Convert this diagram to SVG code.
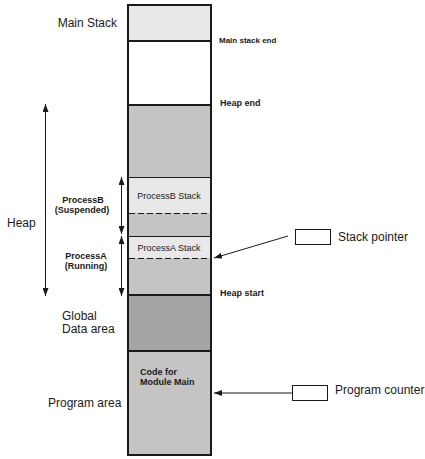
<svg xmlns="http://www.w3.org/2000/svg" width="425" height="459" viewBox="0 0 425 459">
<style>
text{font-family:"Liberation Sans",Arial,sans-serif;fill:#1a1a1a}
.lg{font-size:12px}
.sm{font-size:9px}
.b{font-weight:bold}
.seg{stroke:#1a1a1a;stroke-width:2}
.thin{stroke:#1a1a1a;stroke-width:1;fill:none}
.dash{stroke:#1a1a1a;stroke-width:1;stroke-dasharray:6 3;fill:none}
.arr{stroke:#1a1a1a;stroke-width:1;fill:none}
</style>
<defs>
<marker id="ah" viewBox="0 0 8 6" refX="8" refY="3" markerWidth="8" markerHeight="6" markerUnits="userSpaceOnUse" orient="auto-start-reverse">
<path d="M0,0 L8,3 L0,6 z" fill="#1a1a1a"/>
</marker>
</defs>
<rect width="425" height="459" fill="#fff"/>
<g id="main-stack">
<rect x="128" y="5" width="83" height="36" fill="#e8e8e8"/>
<text class="lg" x="117" y="27" text-anchor="end">Main Stack</text>
<text class="b" font-size="8" x="219" y="43">Main stack end</text>
</g>
<g id="free">
<rect x="128" y="41" width="83" height="64" fill="#fff"/>
<text class="sm b" x="220" y="106">Heap end</text>
</g>
<g id="heap">
<rect x="128" y="105" width="83" height="190" fill="#c4c4c4"/>
<text class="lg" x="7" y="227" font-size="13">Heap</text>
<text class="sm b" x="220" y="296">Heap start</text>
</g>
<g id="processB-stack">
<rect x="129" y="177" width="81" height="36" fill="#e8e8e8"/>
<line class="thin" x1="129" y1="177.5" x2="210" y2="177.5"/>
<line class="dash" x1="129" y1="213.5" x2="210" y2="213.5"/>
<text class="sm" x="169" y="199" text-anchor="middle">ProcessB Stack</text>
<text class="sm b" x="83" y="203" text-anchor="middle">ProcessB</text>
<text class="sm b" x="82" y="213" text-anchor="middle">(Suspended)</text>
</g>
<g id="processA-stack">
<rect x="129" y="236" width="81" height="22" fill="#e8e8e8"/>
<line class="thin" x1="129" y1="236.5" x2="210" y2="236.5"/>
<line class="dash" x1="129" y1="258.5" x2="210" y2="258.5"/>
<text class="sm" x="169" y="251" text-anchor="middle">ProcessA Stack</text>
<text class="sm b" x="86" y="259" text-anchor="middle">ProcessA</text>
<text class="sm b" x="86" y="269" text-anchor="middle">(Running)</text>
</g>
<g id="global-data">
<rect x="128" y="295" width="83" height="56" fill="#a4a4a4"/>
<text class="lg" x="62" y="320">Global</text>
<text class="lg" x="62" y="333">Data area</text>
</g>
<g id="program-area">
<rect x="128" y="351" width="83" height="104" fill="#c4c4c4"/>
<text class="lg" x="48" y="407">Program area</text>
<text class="sm b" x="140" y="375">Code for</text>
<text class="sm b" x="140" y="385">Module Main</text>
</g>
<g id="column-outline">
<rect x="128" y="5" width="83" height="450" fill="none" class="seg"/>
<line class="seg" x1="128" y1="41" x2="211" y2="41"/>
<line class="seg" x1="128" y1="105" x2="211" y2="105"/>
<line class="seg" x1="128" y1="295" x2="211" y2="295"/>
<line class="seg" x1="128" y1="351" x2="211" y2="351"/>
</g>
<g id="stack-pointer">
<rect x="295.5" y="229.5" width="35" height="15" fill="#fff" stroke="#1a1a1a" stroke-width="1"/>
<text class="lg" x="338" y="241">Stack pointer</text>
</g>
<g id="program-counter">
<rect x="292.5" y="385.5" width="35" height="15" fill="#fff" stroke="#1a1a1a" stroke-width="1"/>
<text class="lg" x="335" y="394">Program counter</text>
</g>
<g id="connectors">
<line class="arr" x1="45.5" y1="104" x2="45.5" y2="296" marker-start="url(#ah)" marker-end="url(#ah)"/>
<line class="arr" x1="121.5" y1="177" x2="121.5" y2="234" marker-start="url(#ah)" marker-end="url(#ah)"/>
<line class="arr" x1="121.5" y1="236" x2="121.5" y2="296" marker-start="url(#ah)" marker-end="url(#ah)"/>
<line class="arr" x1="288" y1="236" x2="214" y2="258" marker-end="url(#ah)"/>
<line class="arr" x1="292" y1="393" x2="214" y2="393" marker-end="url(#ah)"/>
</g>
</svg>
